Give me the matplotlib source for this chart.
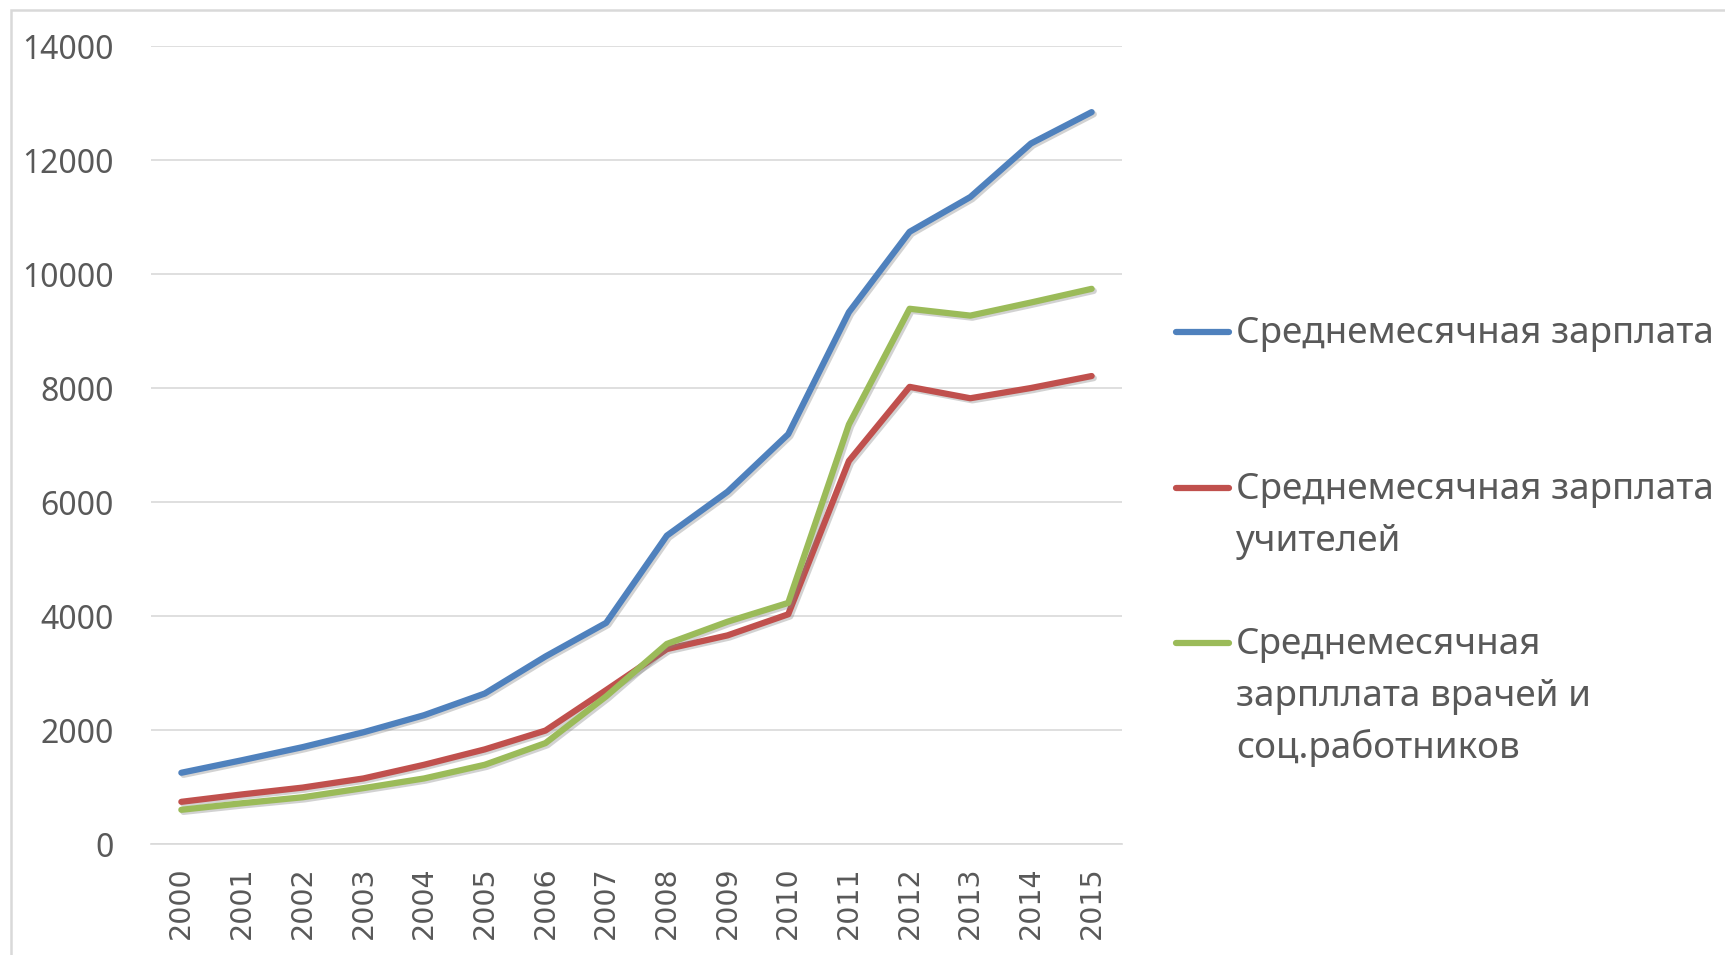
import matplotlib
matplotlib.use('Agg')
import matplotlib.pyplot as plt
import matplotlib.patheffects as pe
from matplotlib.lines import Line2D
from matplotlib.patches import Rectangle

years = [str(y) for y in range(2000, 2016)]
avg_salary = [1250, 1470, 1700, 1960, 2260, 2640, 3290, 3880,
              5410, 6180, 7190, 9330, 10740, 11350, 12290, 12840]
teachers_salary = [740, 870, 990, 1150, 1390, 1660, 1990, 2700,
                   3420, 3660, 4030, 6720, 8020, 7820, 8000, 8210]
doctors_salary = [600, 715, 820, 980, 1150, 1390, 1770, 2590,
                  3510, 3900, 4230, 7360, 9390, 9270, 9500, 9740]
labels = [['Среднемесячная зарплата'],
          ['Среднемесячная зарплата', 'учителей'],
          ['Среднемесячная', 'зарпллата врачей и', 'соц.работников']]
colors = ['#4F81BD', '#C0504D', '#9BBB59']
yticks = [0, 2000, 4000, 6000, 8000, 10000, 12000, 14000]

W, H = 1725, 955
fig = plt.figure(figsize=(W / 100, H / 100), dpi=100)
text_color = '#595959'

# chart border (only top and left visible)
fig.add_artist(Rectangle((11 / W, -0.1), 1.2, 1 - 10 / H + 0.1,
                         transform=fig.transFigure, fill=False,
                         edgecolor='#D9D9D9', linewidth=1.8))

ax = fig.add_axes([151 / W, 1 - 844 / H, (1122 - 151) / W, (844 - 46) / H])
x = range(len(years))
shadow = [pe.SimpleLineShadow(offset=(1.5, -1.5), shadow_color='#7f7f7f', alpha=0.35),
          pe.Normal()]
for series, c in zip([avg_salary, teachers_salary, doctors_salary], colors):
    ax.plot(x, series, color=c, linewidth=4.5, solid_capstyle='round',
            solid_joinstyle='round', path_effects=shadow, zorder=3)

ax.set_xlim(-0.5, len(years) - 0.5)
ax.set_ylim(0, 14000)
ax.set_yticks(yticks)
ax.set_yticklabels([str(v) for v in yticks], family='Noto Sans', fontsize=23,
                   color=text_color)
ax.set_xticks(list(x))
ax.set_xticklabels(years, rotation=90, family='DejaVu Sans', fontsize=20.5,
                   color=text_color)
ax.tick_params(axis='y', length=0, pad=27)
ax.tick_params(axis='x', length=0, pad=16)
ax.grid(axis='y', color='#D9D9D9', linewidth=1.2)
ax.set_axisbelow(True)
for side in ['left', 'right', 'top']:
    ax.spines[side].set_visible(False)
ax.spines['bottom'].set_color('#D9D9D9')
ax.spines['bottom'].set_linewidth(1.2)

# legend drawn manually to keep handles on the first text line
legend_y = [332, 488, 643]
line_step = 52
for lines, c, ly in zip(labels, colors, legend_y):
    yf = 1 - ly / H
    fig.add_artist(Line2D([1176 / W, 1229 / W], [yf, yf], transform=fig.transFigure,
                          color=c, linewidth=4.5, solid_capstyle='round'))
    for i, line in enumerate(lines):
        base = ly + 11 + i * line_step
        fig.text(1236 / W, 1 - base / H, line, family='Noto Sans', fontsize=26.5,
                 color=text_color, va='baseline')

fig.savefig('out.png', dpi=100, facecolor='white')
